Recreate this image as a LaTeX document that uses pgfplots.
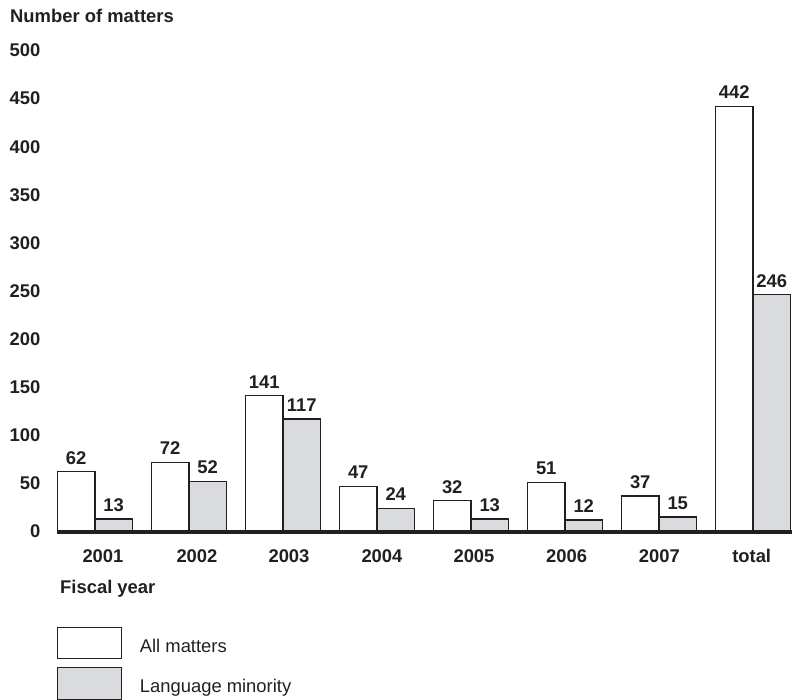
\documentclass[border=0pt]{standalone}
\usepackage{fontspec}
\setmainfont{Liberation Sans}
\usepackage{pgfplots}
\pgfplotsset{compat=1.18}
\definecolor{ink}{RGB}{35,31,32}
\definecolor{minority}{RGB}{218,219,222}
\newcommand{\chartfont}{\fontsize{18.4}{20}\selectfont}

\begin{document}
\begin{tikzpicture}
\useasboundingbox (0,0) rectangle (792pt,-700pt);
\begin{axis}[
  at={(57pt,-531.5pt)}, anchor=south west,
  scale only axis, width=735pt, height=481pt,
  xmin=-0.404, xmax=7.415, ymin=0, ymax=500,
  clip=false,
  ybar=0pt, bar width=37.5pt,
  axis x line*=bottom, axis y line*=left,
  x axis line style={draw=none},
  y axis line style={draw=none},
  major tick length=0pt, tick style={draw=none},
  ytick={0,50,...,500},
  xtick={0.085,1.085,2.064,3.053,4.032,5.018,6.005,6.986},
  xticklabels={2001,2002,2003,2004,2005,2006,2007,total},
  /pgf/number format/assume math mode=true,
  ticklabel style={font=\chartfont\bfseries, text=ink},
  yticklabel style={anchor=east, inner sep=0pt, xshift=-16.5pt},
  xticklabel style={anchor=base, inner sep=0pt, yshift=-30.8pt},
  title={Number of matters},
  every axis title shift=0pt,
  title style={at={(axis description cs:-0.06395,1.0572)}, anchor=base west,
    yshift=0pt, inner sep=0pt, font=\chartfont\bfseries, text=ink},
  xlabel={Fiscal year},
  xlabel style={at={(axis description cs:0.0041,-0.1299)}, anchor=base west,
    inner sep=0pt, font=\chartfont\bfseries, text=ink},
  nodes near coords,
  every node near coord/.append style={anchor=base, yshift=7.5pt, inner sep=0pt,
    font=\chartfont\bfseries, text=ink},
  legend cell align=left,
  legend style={at={(axis description cs:0.0004,-0.1979)}, anchor=north west,
    draw=none, fill=none, inner sep=0pt, outer sep=0pt, row sep=7.7pt,
    font=\chartfont, text=ink, cells={anchor=base west, inner sep=0pt},
    /tikz/every odd column/.append style={column sep=15.7pt}},
  legend image code/.code={\draw[#1] (0pt,-6.6pt) rectangle (63.7pt,25pt);},
]
\addplot[draw=ink, line width=1.2pt, fill=white]
  coordinates {(0,62) (1,72) (2,141) (3,47) (4,32) (5,51) (6,37) (7,442)};
\addlegendentry{All matters}
\addplot[draw=ink, line width=1.2pt, fill=minority]
  coordinates {(0,13) (1,52) (2,117) (3,24) (4,13) (5,12) (6,15) (7,246)};
\addlegendentry{Language minority}
% heavy zero line running the full width of the plot
\draw[ink, line width=4pt] (rel axis cs:0,0) -- (rel axis cs:1,0);
\end{axis}
\end{tikzpicture}
\end{document}
